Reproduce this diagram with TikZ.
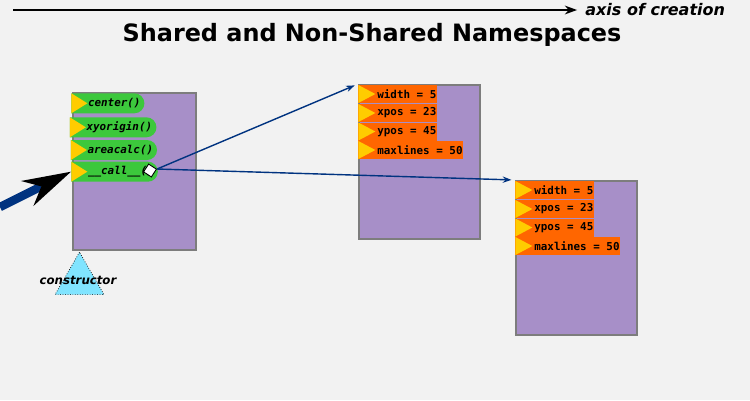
\documentclass[tikz,border=0pt]{standalone}
\usepackage{fontspec}
\setmainfont{DejaVu Sans}
\setsansfont{DejaVu Sans}
\setmonofont{DejaVu Sans Mono}
\usetikzlibrary{arrows.meta,calc,shapes.geometric,shapes.misc}
\definecolor{bgcol}{RGB}{242,242,242}
\definecolor{nsviolet}{RGB}{167,143,200}
\definecolor{nsframe}{RGB}{125,125,125}
\definecolor{methgreen}{RGB}{60,200,60}
\definecolor{attrorange}{RGB}{255,102,0}
\definecolor{tipgold}{RGB}{255,204,0}
\definecolor{linknavy}{RGB}{0,51,128}
\definecolor{ctorcyan}{RGB}{128,228,255}
\begin{document}
\begin{tikzpicture} [x = 0.02cm, y = -0.02cm,
	nsbox/.style = {draw = nsframe, line width = 1.1pt, fill = nsviolet, anchor = north west, inner sep = 0pt},
	method/.style = {rounded rectangle, rounded rectangle west arc = none, fill = methgreen, anchor = west,
		minimum height = 0.4cm, inner xsep = 0pt, inner ysep = 0pt, font = \fontsize{6.2}{7}\ttfamily\bfseries\itshape,
		execute at begin node = \hspace*{9.5pt}, execute at end node = \hspace*{1.5pt},
		path picture = {\fill [tipgold] (path picture bounding box.north west) -- (path picture bounding box.south west) -- ($(path picture bounding box.west) + (16,0)$) -- cycle;}},
	attr/.style = {fill = attrorange, anchor = west, minimum height = 0.36cm, inner xsep = 0.5pt, inner ysep = 0pt,
		font = \fontsize{6.2}{7}\ttfamily\bfseries, execute at begin node = \hspace*{10.3pt},
		path picture = {\fill [tipgold] (path picture bounding box.north west) -- (path picture bounding box.south west) -- ($(path picture bounding box.west) + (17,0)$) -- cycle;}},
	link/.style = {linknavy, line width = 0.8pt, -{Stealth[length = 5pt, width = 3.6pt]}, shorten > = 2pt}]
	\useasboundingbox (0,0) rectangle (750,400);
	\fill [bgcol] (0,0) rectangle (750,400);
	% axis and title
	\coordinate (axstart) at (13,10);
	\node [anchor = west, inner sep = 0pt, font = \fontsize{9.1}{11}\bfseries\itshape] (axlabel) at (585,10) {axis of creation};
	\draw [line width = 0.85pt, -{Stealth[length = 7pt, width = 5pt]}, shorten > = 4.5pt] (axstart) -- (axlabel.west);
	\node [font = \fontsize{13.6}{16}\bfseries] (title) at (372,35) {Shared and Non-Shared Namespaces};
	% the class
	\node [nsbox, minimum width = 2.46cm, minimum height = 3.14cm] (classns) at (72,92) {};
	\node [method] (centerm) at (71,103.3) {center()};
	\node [method] (xyoriginm) at (69.5,127.3) {xyorigin()};
	\node [method] (areacalcm) at (70.5,150) {areacalc()};
	\node [method] (callm) at (71,171.7) {\_\_call\_\_()};
	\node [diamond, draw = black, fill = white, minimum size = 0.27cm, inner sep = 0pt, line width = 0.5pt, rotate = 12] (callout) at (150,170.5) {};
	% the instances
	\node [nsbox, minimum width = 2.42cm, minimum height = 3.08cm] (inst1ns) at (358,84) {};
	\node [attr] (inst1width) at (358,94) {width = 5};
	\node [attr] (inst1xpos) at (358,113) {xpos = 23};
	\node [attr] (inst1ypos) at (358,131.5) {ypos = 45};
	\node [attr] (inst1lines) at (358,150) {maxlines = 50};
	\node [nsbox, minimum width = 2.42cm, minimum height = 3.08cm] (inst2ns) at (515,180) {};
	\node [attr] (inst2width) at (515,190) {width = 5};
	\node [attr] (inst2xpos) at (515,209) {xpos = 23};
	\node [attr] (inst2ypos) at (515,227.5) {ypos = 45};
	\node [attr] (inst2lines) at (515,246) {maxlines = 50};
	\draw [link] (callout.east) -- (inst1ns.north west);
	\draw [link] (callout.east) -- (inst2ns.north west);
	% constructor
	\coordinate (feed) at (0,207);
	\draw [linknavy, line width = 0.17cm, -{Stealth[length = 0.98cm, width = 0.56cm, line width = 0pt, color = black]}] (feed) -- (callm.west);
	\node [regular polygon, regular polygon sides = 3, minimum size = 1.13cm, inner sep = 0pt, fill = ctorcyan, draw = black, densely dotted, line width = 0.4pt] (ctor) at (79.5,280.5) {};
	\node [font = \fontsize{6.7}{8}\bfseries\itshape] (ctorlabel) at (78,280) {constructor};
\end{tikzpicture}
\end{document}
